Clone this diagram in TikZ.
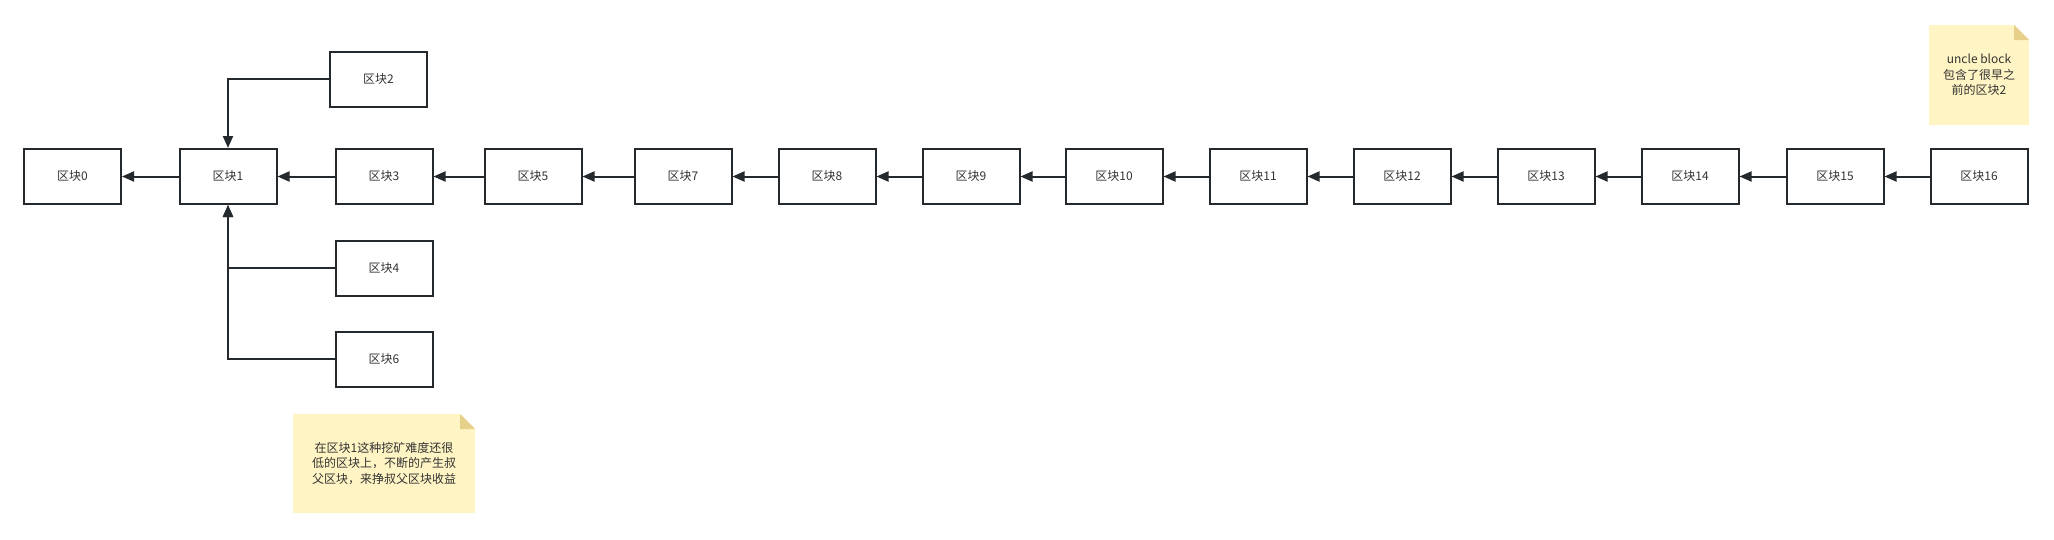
\documentclass[tikz,border=0pt]{standalone}
\usepackage{fontspec}
\setmainfont{Noto Sans CJK SC}
\usetikzlibrary{arrows.meta}
\definecolor{edgec}{RGB}{36,41,46}
\definecolor{txtc}{RGB}{51,51,51}
\definecolor{notebg}{RGB}{255,244,195}
\definecolor{notefold}{RGB}{230,208,138}
\tikzset{
  blk/.style={draw=edgec,line width=1.5pt,fill=white,minimum width=72.75pt,minimum height=41.25pt,inner sep=0pt,text=txtc,font=\fontsize{9}{11}\selectfont},
  arr/.style={edgec,line width=1.5pt,-{Triangle[length=9pt,width=7.5pt]}},
  notebox/.style={minimum width=#1,inner sep=0pt,text=txtc,align=center,font=\fontsize{9}{11.5}\selectfont,
    path picture={
      \fill[notebg] (path picture bounding box.north west) -- ([xshift=-11.25pt]path picture bounding box.north east)
        -- ([yshift=-11.25pt]path picture bounding box.north east) -- (path picture bounding box.south east)
        -- (path picture bounding box.south west) -- cycle;
      \fill[notefold] ([xshift=-11.25pt]path picture bounding box.north east) -- ([xshift=-11.25pt,yshift=-11.25pt]path picture bounding box.north east)
        -- ([yshift=-11.25pt]path picture bounding box.north east) -- cycle;}},
  every picture/.style={x=0.75pt,y=-0.75pt}
}
\begin{document}
\begin{tikzpicture}
  \useasboundingbox (0,0) rectangle (2054,539);
  % main chain
  \node[blk] (b0) at (72.5,176.5) {区块0}; \node[blk] (b1) at (228,176.5) {区块1};
  \node[blk] (b3) at (384,176.5) {区块3}; \node[blk] (b5) at (533,176.5) {区块5};
  \node[blk] (b7) at (683,176.5) {区块7}; \node[blk] (b8) at (827,176.5) {区块8};
  \node[blk] (b9) at (971,176.5) {区块9}; \node[blk] (b10) at (1114,176.5) {区块10};
  \node[blk] (b11) at (1258,176.5) {区块11}; \node[blk] (b12) at (1402,176.5) {区块12};
  \node[blk] (b13) at (1546,176.5) {区块13}; \node[blk] (b14) at (1690,176.5) {区块14};
  \node[blk] (b15) at (1835,176.5) {区块15}; \node[blk] (b16) at (1979,176.5) {区块16};
  % uncles of block 1
  \node[blk] (b2) at (378.5,79) {区块2};
  \node[blk] (b4) at (384,268) {区块4}; \node[blk] (b6) at (384,359) {区块6};
  \draw[arr] (b1) -- (b0); \draw[arr] (b3) -- (b1); \draw[arr] (b5) -- (b3);
  \draw[arr] (b7) -- (b5); \draw[arr] (b8) -- (b7); \draw[arr] (b9) -- (b8);
  \draw[arr] (b10) -- (b9); \draw[arr] (b11) -- (b10); \draw[arr] (b12) -- (b11);
  \draw[arr] (b13) -- (b12); \draw[arr] (b14) -- (b13); \draw[arr] (b15) -- (b14);
  \draw[arr] (b16) -- (b15);
  \draw[arr] (b2.west) -| (b1.north);
  \draw[arr] (b4.west) -| (b1.south); \draw[arr] (b6.west) -| (b1.south);
  % notes
  \node[notebox=136.5pt,minimum height=74.25pt] (nt1) at (384,463.5) {在区块1这种挖矿难度还很\\低的区块上，不断的产生叔\\父区块，来挣叔父区块收益};
  \node[notebox=75pt,minimum height=75pt] (nt2) at (1979,75) {uncle block\\包含了很早之\\前的区块2};
\end{tikzpicture}
\end{document}
